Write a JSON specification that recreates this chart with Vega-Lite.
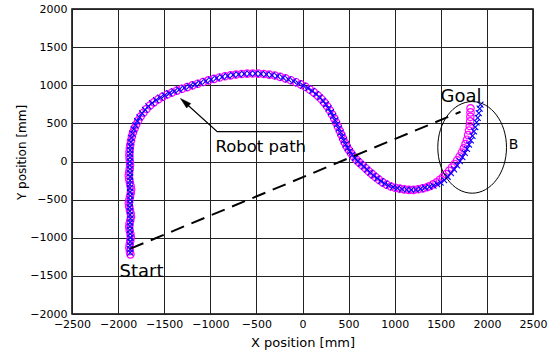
{
  "$schema": "https://vega.github.io/schema/vega-lite/v6.json",
  "width": 461,
  "height": 305,
  "autosize": "none",
  "padding": {"left": 72, "top": 9, "right": 17, "bottom": 40},
  "background": "white",
  "config": {"view": {"stroke": "black", "strokeWidth": 1.5}, "font": "DejaVu Sans"},
  "datasets": {
    "blue": [
      {"x": -1868, "y": -1196}, {"x": -1870, "y": -1150}, {"x": -1872, "y": -1100}, {"x": -1869, "y": -1050},
      {"x": -1866, "y": -1000}, {"x": -1870, "y": -950}, {"x": -1873, "y": -900}, {"x": -1871, "y": -850},
      {"x": -1868, "y": -800}, {"x": -1866, "y": -750}, {"x": -1869, "y": -700}, {"x": -1872, "y": -650},
      {"x": -1874, "y": -600}, {"x": -1871, "y": -550}, {"x": -1868, "y": -500}, {"x": -1867, "y": -450},
      {"x": -1870, "y": -400}, {"x": -1872, "y": -350}, {"x": -1873, "y": -300}, {"x": -1871, "y": -250},
      {"x": -1869, "y": -200}, {"x": -1870, "y": -150}, {"x": -1872, "y": -100}, {"x": -1874, "y": -50},
      {"x": -1873, "y": 0}, {"x": -1871, "y": 50}, {"x": -1870, "y": 100}, {"x": -1869, "y": 150},
      {"x": -1868, "y": 200}, {"x": -1863, "y": 255}, {"x": -1855, "y": 310}, {"x": -1844, "y": 365},
      {"x": -1830, "y": 420}, {"x": -1812, "y": 475}, {"x": -1792, "y": 528}, {"x": -1768, "y": 580},
      {"x": -1740, "y": 630}, {"x": -1708, "y": 678}, {"x": -1672, "y": 724}, {"x": -1632, "y": 766},
      {"x": -1588, "y": 804}, {"x": -1542, "y": 838}, {"x": -1494, "y": 868}, {"x": -1444, "y": 895},
      {"x": -1392, "y": 920}, {"x": -1338, "y": 944}, {"x": -1282, "y": 966}, {"x": -1224, "y": 988},
      {"x": -1166, "y": 1010}, {"x": -1108, "y": 1032}, {"x": -1050, "y": 1054}, {"x": -992, "y": 1075},
      {"x": -932, "y": 1094}, {"x": -872, "y": 1110}, {"x": -812, "y": 1124}, {"x": -752, "y": 1135},
      {"x": -692, "y": 1144}, {"x": -632, "y": 1150}, {"x": -572, "y": 1153}, {"x": -512, "y": 1153},
      {"x": -452, "y": 1150}, {"x": -392, "y": 1144}, {"x": -332, "y": 1134}, {"x": -272, "y": 1119},
      {"x": -212, "y": 1100}, {"x": -154, "y": 1078}, {"x": -98, "y": 1053}, {"x": -44, "y": 1026},
      {"x": 8, "y": 996}, {"x": 58, "y": 962}, {"x": 104, "y": 925}, {"x": 146, "y": 885},
      {"x": 186, "y": 842}, {"x": 222, "y": 796}, {"x": 254, "y": 748}, {"x": 282, "y": 698},
      {"x": 308, "y": 646}, {"x": 332, "y": 594}, {"x": 354, "y": 540}, {"x": 374, "y": 486},
      {"x": 394, "y": 432}, {"x": 412, "y": 378}, {"x": 430, "y": 326}, {"x": 448, "y": 276},
      {"x": 468, "y": 226}, {"x": 490, "y": 178}, {"x": 514, "y": 132}, {"x": 540, "y": 88},
      {"x": 568, "y": 46}, {"x": 598, "y": 6}, {"x": 632, "y": -30}, {"x": 666, "y": -68},
      {"x": 700, "y": -108}, {"x": 736, "y": -146}, {"x": 772, "y": -184}, {"x": 810, "y": -222},
      {"x": 850, "y": -258}, {"x": 892, "y": -290}, {"x": 936, "y": -316}, {"x": 982, "y": -336},
      {"x": 1030, "y": -350}, {"x": 1080, "y": -362}, {"x": 1130, "y": -370}, {"x": 1180, "y": -372},
      {"x": 1230, "y": -368}, {"x": 1280, "y": -358}, {"x": 1328, "y": -344}, {"x": 1376, "y": -332},
      {"x": 1420, "y": -316}, {"x": 1460, "y": -298}, {"x": 1498, "y": -276}, {"x": 1536, "y": -244},
      {"x": 1574, "y": -200}, {"x": 1610, "y": -152}, {"x": 1644, "y": -102}, {"x": 1676, "y": -50},
      {"x": 1706, "y": 4}, {"x": 1734, "y": 58}, {"x": 1760, "y": 112}, {"x": 1784, "y": 166},
      {"x": 1806, "y": 222}, {"x": 1826, "y": 278}, {"x": 1844, "y": 336}, {"x": 1860, "y": 394},
      {"x": 1874, "y": 452}, {"x": 1888, "y": 512}, {"x": 1900, "y": 572}, {"x": 1912, "y": 634},
      {"x": 1922, "y": 694}, {"x": 1930, "y": 745}
    ],
    "magenta": [
      {"x": -1866, "y": -1218}, {"x": -1872, "y": -1175}, {"x": -1878, "y": -1130}, {"x": -1874, "y": -1085},
      {"x": -1868, "y": -1040}, {"x": -1862, "y": -995}, {"x": -1866, "y": -950}, {"x": -1874, "y": -905},
      {"x": -1880, "y": -860}, {"x": -1876, "y": -815}, {"x": -1868, "y": -770}, {"x": -1860, "y": -725},
      {"x": -1864, "y": -680}, {"x": -1872, "y": -635}, {"x": -1880, "y": -590}, {"x": -1884, "y": -545},
      {"x": -1878, "y": -500}, {"x": -1870, "y": -455}, {"x": -1862, "y": -410}, {"x": -1858, "y": -365},
      {"x": -1864, "y": -320}, {"x": -1872, "y": -275}, {"x": -1880, "y": -230}, {"x": -1884, "y": -185},
      {"x": -1880, "y": -140}, {"x": -1874, "y": -95}, {"x": -1870, "y": -50}, {"x": -1872, "y": -5},
      {"x": -1876, "y": 40}, {"x": -1878, "y": 85}, {"x": -1876, "y": 130}, {"x": -1872, "y": 175},
      {"x": -1868, "y": 220}, {"x": -1860, "y": 275}, {"x": -1850, "y": 330}, {"x": -1838, "y": 382},
      {"x": -1822, "y": 434}, {"x": -1804, "y": 486}, {"x": -1782, "y": 538}, {"x": -1756, "y": 590},
      {"x": -1726, "y": 640}, {"x": -1692, "y": 688}, {"x": -1654, "y": 734}, {"x": -1612, "y": 776},
      {"x": -1566, "y": 814}, {"x": -1518, "y": 848}, {"x": -1468, "y": 878}, {"x": -1416, "y": 904},
      {"x": -1362, "y": 930}, {"x": -1306, "y": 954}, {"x": -1250, "y": 976}, {"x": -1194, "y": 998},
      {"x": -1136, "y": 1020}, {"x": -1078, "y": 1042}, {"x": -1020, "y": 1064}, {"x": -960, "y": 1084},
      {"x": -900, "y": 1102}, {"x": -840, "y": 1118}, {"x": -780, "y": 1130}, {"x": -720, "y": 1140},
      {"x": -660, "y": 1147}, {"x": -600, "y": 1152}, {"x": -540, "y": 1154}, {"x": -480, "y": 1152},
      {"x": -420, "y": 1147}, {"x": -360, "y": 1139}, {"x": -300, "y": 1127}, {"x": -242, "y": 1110},
      {"x": -184, "y": 1090}, {"x": -126, "y": 1066}, {"x": -70, "y": 1040}, {"x": -18, "y": 1012},
      {"x": 32, "y": 980}, {"x": 80, "y": 944}, {"x": 124, "y": 906}, {"x": 166, "y": 864},
      {"x": 204, "y": 820}, {"x": 238, "y": 772}, {"x": 268, "y": 724}, {"x": 296, "y": 672},
      {"x": 320, "y": 620}, {"x": 344, "y": 566}, {"x": 364, "y": 512}, {"x": 384, "y": 458},
      {"x": 404, "y": 404}, {"x": 422, "y": 352}, {"x": 440, "y": 300}, {"x": 458, "y": 250},
      {"x": 478, "y": 202}, {"x": 502, "y": 154}, {"x": 526, "y": 110}, {"x": 554, "y": 66},
      {"x": 584, "y": 26}, {"x": 614, "y": -12}, {"x": 648, "y": -50}, {"x": 684, "y": -88},
      {"x": 718, "y": -128}, {"x": 754, "y": -166}, {"x": 792, "y": -204}, {"x": 830, "y": -240},
      {"x": 870, "y": -274}, {"x": 914, "y": -304}, {"x": 958, "y": -328}, {"x": 1006, "y": -344},
      {"x": 1054, "y": -356}, {"x": 1104, "y": -366}, {"x": 1154, "y": -372}, {"x": 1204, "y": -372},
      {"x": 1254, "y": -364}, {"x": 1304, "y": -352}, {"x": 1350, "y": -338}, {"x": 1376, "y": -324},
      {"x": 1416, "y": -300}, {"x": 1454, "y": -272}, {"x": 1490, "y": -240}, {"x": 1524, "y": -204},
      {"x": 1558, "y": -164}, {"x": 1590, "y": -122}, {"x": 1620, "y": -78}, {"x": 1650, "y": -32},
      {"x": 1678, "y": 16}, {"x": 1704, "y": 66}, {"x": 1728, "y": 118}, {"x": 1750, "y": 172},
      {"x": 1768, "y": 228}, {"x": 1784, "y": 286}, {"x": 1796, "y": 346}, {"x": 1806, "y": 406},
      {"x": 1814, "y": 466}, {"x": 1818, "y": 526}, {"x": 1820, "y": 586}, {"x": 1822, "y": 644},
      {"x": 1822, "y": 697}
    ],
    "straight": [{"x": -1866, "y": -1143, "o": 1}, {"x": 1714, "y": 652, "o": 2}],
    "leader": [{"x": 0, "y": 391, "o": 1}, {"x": -925, "y": 391, "o": 2}, {"x": -1290, "y": 790, "o": 3}],
    "head": [{"x": -1279, "y": 779}],
    "ellipse": [{"x": 1840, "y": 185}],
    "big": [{"x": 1497, "y": 783, "label": "Goal"}, {"x": -1985, "y": -1514, "label": "Start"}],
    "mid": [{"x": -944, "y": 123, "label": "Robot path"}],
    "small": [{"x": 2237, "y": 162, "label": "B"}]
  },
  "encoding": {
    "x": {
      "field": "x", "type": "quantitative",
      "scale": {"domain": [-2500, 2500], "nice": false, "zero": false},
      "axis": {
        "values": [-2500, -2000, -1500, -1000, -500, 0, 500, 1000, 1500, 2000, 2500],
        "format": "d",
        "grid": true, "gridColor": "#222222", "gridWidth": 1, "gridOpacity": 1,
        "ticks": false, "tickSize": 0, "domain": false,
        "labelFont": "DejaVu Sans", "labelFontSize": 11, "labelColor": "black", "labelPadding": 4,
        "labelOverlap": false, "labelFlush": false, "labelBound": false,
        "title": "X position [mm]", "titleFont": "DejaVu Sans", "titleFontSize": 13,
        "titleFontWeight": "normal", "titleColor": "black", "titleY": 32, "titleBaseline": "alphabetic"
      }
    },
    "y": {
      "field": "y", "type": "quantitative",
      "scale": {"domain": [-2000, 2000], "nice": false, "zero": false},
      "axis": {
        "values": [-2000, -1500, -1000, -500, 0, 500, 1000, 1500, 2000],
        "format": "d",
        "grid": true, "gridColor": "#222222", "gridWidth": 1, "gridOpacity": 1,
        "ticks": false, "tickSize": 0, "domain": false,
        "labelFont": "DejaVu Sans", "labelFontSize": 11, "labelColor": "black", "labelPadding": 5,
        "labelOverlap": false, "labelFlush": false, "labelBound": false,
        "title": "Y position [mm]", "titleFont": "DejaVu Sans",
        "titleFontSize": 12, "titleFontWeight": "normal", "titleColor": "black",
        "titleX": -51, "titleY": 143, "titleAlign": "center", "titleBaseline": "middle", "titleAngle": 270
      }
    }
  },
  "layer": [
    {
      "data": {"name": "magenta"},
      "mark": {"type": "point", "shape": "circle", "size": 55, "stroke": "#ff00ff", "strokeWidth": 1.2, "filled": false, "opacity": 1}
    },
    {
      "data": {"name": "blue"},
      "mark": {"type": "point", "shape": "M-1,-1L1,1M-1,1L1,-1", "size": 36, "stroke": "#0000ff", "strokeWidth": 1.1, "filled": false, "opacity": 1}
    },
    {
      "data": {"name": "straight"},
      "mark": {"type": "line", "color": "black", "strokeWidth": 2, "strokeDash": [14, 8]},
      "encoding": {"order": {"field": "o"}}
    },
    {
      "data": {"name": "leader"},
      "mark": {"type": "line", "color": "black", "strokeWidth": 1.2},
      "encoding": {"order": {"field": "o"}}
    },
    {
      "data": {"name": "head"},
      "mark": {"type": "point", "shape": "M0,-1L0.55,1L-0.55,1Z", "size": 121, "angle": 312, "fill": "black", "filled": true, "stroke": "black", "strokeWidth": 0.5, "opacity": 1}
    },
    {
      "data": {"name": "ellipse"},
      "mark": {"type": "point", "shape": "M-0.75,0A0.75,1 0 1,1 0.75,0A0.75,1 0 1,1 -0.75,0Z", "size": 8390, "stroke": "black", "strokeWidth": 1, "filled": false, "opacity": 1}
    },
    {
      "data": {"name": "big"},
      "mark": {"type": "text", "font": "DejaVu Sans", "fontSize": 18, "align": "left", "baseline": "alphabetic", "color": "black"},
      "encoding": {"text": {"field": "label"}}
    },
    {
      "data": {"name": "mid"},
      "mark": {"type": "text", "font": "DejaVu Sans", "fontSize": 16.5, "align": "left", "baseline": "alphabetic", "color": "black"},
      "encoding": {"text": {"field": "label"}}
    },
    {
      "data": {"name": "small"},
      "mark": {"type": "text", "font": "DejaVu Sans", "fontSize": 14, "align": "left", "baseline": "alphabetic", "color": "black"},
      "encoding": {"text": {"field": "label"}}
    }
  ]
}
